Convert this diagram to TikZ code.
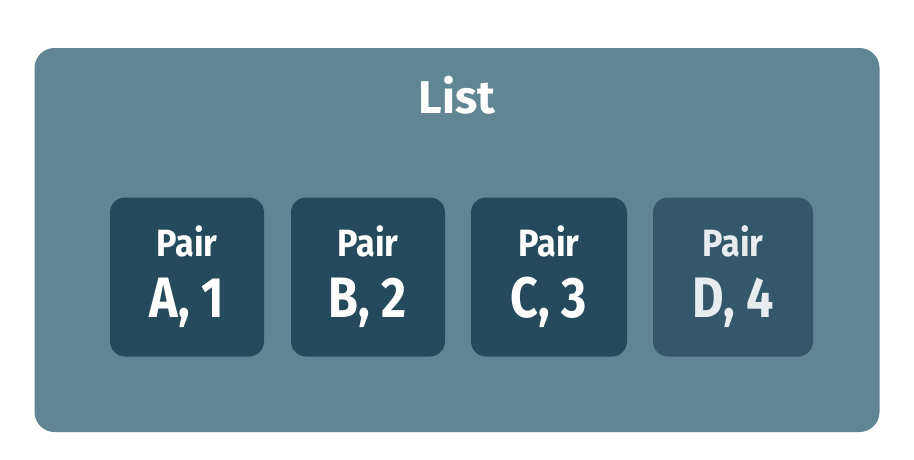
\documentclass[tikz,border=0pt]{standalone}
\usepackage{fontspec}
\setmainfont{Fira Sans}
\definecolor{outerc}{HTML}{608694}
\definecolor{innerc}{HTML}{244A5C}
\definecolor{lastc}{HTML}{34586A}
\definecolor{lasttext}{HTML}{E6ECF0}
\begin{document}
\begin{tikzpicture}[x=1pt,y=-1pt,
  pairbox/.style={fill=innerc, rounded corners=15pt, minimum height=159pt, inner sep=0pt},
  pairlabel/.style={text=white, font=\bfseries\fontsize{38}{38}\selectfont, anchor=base},
  pairval/.style={text=white, font=\bfseries\fontsize{57}{57}\selectfont, anchor=base}]
\useasboundingbox (0,0) rectangle (914,459);
\fill[white] (0,0) rectangle (914,459);
\node[fill=outerc, rounded corners=20pt, minimum width=845pt, minimum height=384pt, inner sep=0pt] (list) at (457,240) {};
\node[text=white, font=\bfseries\fontsize{46}{46}\selectfont, anchor=base] (title) at (457,113) {List};
\foreach \n/\cx/\w/\l/\v/\c/\t in {a/187/154/A/1/innerc/white, b/368/154/B/2/innerc/white, c/549/156/C/3/innerc/white, d/733/160/D/4/lastc/lasttext}{
  \node[pairbox, fill=\c, minimum width=\w pt] (\n) at (\cx,277) {};
  \node[pairlabel, text=\t] (\n l) at (\cx,256) {\scalebox{0.9}[1]{Pair}};
  \node[pairval, text=\t] (\n v) at (\cx,317) {\scalebox{0.85}[1]{\l, \v}};
}
\end{tikzpicture}
\end{document}
